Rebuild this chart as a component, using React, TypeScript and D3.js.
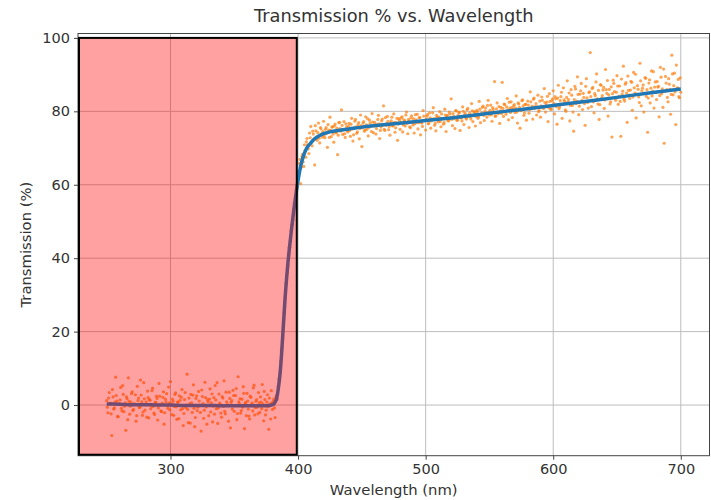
import React, { useEffect, useRef } from "react";
import * as d3 from "d3";

// measured transmission, one reading per nm from 250 to 700 nm
const startNm = 250;
const measuredT = [
  1.2, -2.1, 3.4, 0.5, -8.3, 2.2, -0.8, 7.6, 1.1, -3.2,
  0.4, 4.8, -1.6, 2.9, -0.3, -6.9, 1.7, 7.4, -2.5, 0.8,
  3.6, -1.2, 0.2, -4.4, 5.1, 1.9, -0.6, 2.7, -2.8, 6.1,
  -1.4, 0.9, 3.8, -3.5, 1.3, -0.2, 4.6, -2.2, 0.7, 2.4,
  -4.1, 5.9, 0.1, -1.8, 2.1, -5.2, 1.6, 3.1, -0.9, 0.6,
  6.4, -2.6, 1.0, -0.4, 3.3, -3.9, 0.8, 2.5, -1.3, 4.2,
  -5.6, 1.5, -0.7, 8.4, -4.8, 0.3, 2.9, -2.0, 5.5, -5.9,
  1.8, -1.5, 3.7, 0.0, -7.1, 2.3, -3.6, 6.2, -0.5, 1.4,
  -2.9, 4.4, 0.6, -4.6, 2.0, 5.3, -1.0, -5.0, 3.0, 0.2,
  -3.3, 1.9, 6.6, -2.4, 0.9, -0.1, 3.5, -6.2, 1.2, 4.0,
  -1.7, 2.6, -4.0, 7.7, 0.4, -2.2, 1.6, 5.0, -6.4, 0.7,
  3.2, -1.1, -3.8, 2.1, 0.5, 4.7, -2.7, 1.0, -0.6, 3.4,
  -2.0, 0.8, 5.6, -4.3, 1.5, -1.4, 2.8, -6.6, 0.3, 3.9,
  -1.2, 1.6, -3.4, 2.6, 3.0, 7.1, 8.8, 14.6, 18.4, 25.2,
  29.3, 35.2, 37.8, 42.9, 44.6, 49.0, 50.5, 54.8, 55.9, 59.8,
  62.4, 65.8, 60.3, 67.7, 66.2, 70.9, 67.5, 72.6, 69.8, 74.1,
  75.9, 70.6, 73.8, 65.4, 74.7, 72.1, 76.8, 71.4, 75.2, 73.0,
  77.3, 72.8, 75.6, 70.2, 74.9, 78.4, 73.1, 75.8, 71.6, 76.5,
  74.1, 68.2, 76.9, 75.3, 80.4, 73.7, 77.2, 72.9, 75.8, 74.4,
  76.7, 73.2, 78.1, 71.9, 75.5, 77.8, 74.0, 76.3, 72.5, 79.0,
  70.4, 76.8, 74.6, 78.5, 75.1, 73.3, 77.6, 75.9, 79.4, 74.2,
  77.0, 73.8, 76.4, 78.9, 72.6, 75.7, 77.9, 81.5, 74.8, 76.2,
  78.6, 75.0, 73.5, 77.4, 76.1, 79.3, 74.3, 76.9, 72.1, 78.0,
  75.1, 78.2, 74.4, 77.7, 76.0, 79.8, 73.9, 77.3, 75.5, 78.8,
  76.3, 74.1, 79.1, 77.0, 75.2, 78.3, 73.6, 76.8, 80.2, 77.5,
  74.9, 78.7, 76.6, 79.6, 75.4, 77.8, 81.0, 76.2, 74.7, 78.4,
  77.1, 79.9, 75.8, 78.0, 76.5, 80.6, 74.5, 78.9, 77.4, 79.3,
  83.4, 76.1, 78.6, 75.3, 80.1, 77.6, 79.7, 74.8, 78.2, 81.2,
  76.4, 79.5, 77.9, 80.8, 75.6, 78.5, 82.1, 77.2, 79.9, 76.0,
  80.3, 78.1, 82.7, 76.9, 79.6, 81.4, 77.5, 80.9, 78.4, 83.0,
  79.0, 81.7, 77.3, 80.5, 88.1, 78.8, 82.3, 79.4, 76.7, 81.1,
  87.9, 78.6, 81.8, 79.2, 83.5, 77.7, 80.9, 82.6, 78.3, 81.5,
  79.7, 84.2, 76.8, 82.0, 75.4, 80.4, 83.1, 78.9, 81.9, 77.6,
  82.8, 79.5, 85.3, 80.7, 77.9, 83.6, 81.3, 79.0, 84.4, 80.2,
  78.4, 83.9, 81.0, 86.2, 79.8, 82.5, 77.2, 84.8, 80.6, 82.9,
  85.6, 79.3, 83.4, 76.5, 87.1, 81.2, 84.0, 78.1, 86.4, 82.7,
  80.0, 88.3, 83.2, 77.4, 85.9, 81.6, 74.6, 86.8, 82.1, 89.4,
  79.1, 84.7, 87.6, 80.5, 83.8, 76.2, 88.9, 82.4, 85.1, 96.0,
  81.3, 86.5, 79.6, 84.3, 90.2, 82.0, 77.8, 87.3, 83.6, 85.8,
  80.8, 91.4, 84.9, 78.7, 86.0, 82.6, 73.0, 88.5, 85.4, 83.0,
  89.7, 81.9, 86.9, 73.2, 84.6, 92.3, 82.8, 87.8, 77.0, 85.7,
  83.5, 88.2, 80.3, 90.6, 85.0, 78.2, 87.0, 83.9, 93.1, 81.5,
  86.3, 79.8, 89.2, 84.1, 74.3, 87.7, 82.3, 91.0, 85.5, 80.9,
  88.0, 83.2, 86.6, 78.5, 92.0, 84.8, 81.1, 71.3, 89.5, 85.9,
  82.6, 87.4, 79.2, 95.3, 84.5, 90.4, 76.4, 86.2, 88.7, 83.7,
  85.2,
];

// second pass, read between the whole-nm points (250.5 ... 699.5 nm)
const halfStartNm = 250.5;
const measuredHalfT = [
  -0.6, 1.9, 0.3, -2.4, 4.2, -1.1, 0.8, 2.6, -3.1, 0.2,
  1.4, -0.9, 5.3, -1.8, 0.6, 2.2, -4.0, 1.0, -0.3, 3.1,
  -1.5, 0.4, 2.8, -2.9, 1.2, -0.7, 6.8, 0.9, -1.9, 1.7,
  0.1, -3.3, 2.0, 1.5, -1.0, 3.9, -0.4, -2.6, 0.7, 1.8,
  -0.8, 2.4, -1.6, 0.5, 3.6, -2.1, 0.9, -0.2, 4.9, -1.3,
  0.3, 1.6, -2.8, 2.9, -0.5, 0.8, -3.7, 1.3, 2.1, -1.0,
  -2.3, 3.4, 0.0, -1.2, 1.9, -4.9, 0.6, 2.7, -0.9, -3.4,
  2.5, -0.6, 1.1, -2.0, 4.1, 0.4, -1.4, 2.0, -5.2, 0.9,
  1.6, -1.9, 3.0, -0.3, -2.5, 1.4, 6.1, -0.8, 0.5, -2.2,
  2.3, -0.4, -1.7, 3.5, 0.2, -4.4, 1.8, 0.7, -1.1, 2.6,
  -0.2, 4.5, -2.3, 0.9, 1.7, -1.5, -0.6, 3.2, 0.4, -2.9,
  1.1, -3.0, 2.4, 0.1, -1.6, 5.4, -0.7, 1.5, -2.4, 0.6,
  2.2, -1.0, 0.3, 3.7, -2.7, 0.8, -0.5, 1.9, -3.8, 0.5,
  1.0, -0.8, 2.0, 1.6, 5.1, 6.6, 12.0, 15.7, 22.4, 26.8,
  33.0, 36.0, 41.1, 43.0, 47.5, 49.2, 53.4, 54.6, 58.5, 59.3,
  63.5, 66.9, 64.8, 68.3, 65.0, 69.4, 71.7, 70.9, 68.5, 72.8,
  71.5, 74.6, 72.4, 76.1, 73.0, 74.2, 72.7, 75.6, 73.9, 74.5,
  73.4, 75.1, 74.0, 76.4, 72.9, 74.8, 75.7, 73.8, 76.0, 74.3,
  75.4, 73.5, 77.0, 74.6, 76.2, 75.0, 73.9, 76.6, 74.7, 75.9,
  74.8, 76.5, 75.2, 73.6, 77.3, 75.8, 74.4, 76.9, 75.3, 76.1,
  75.5, 77.2, 74.9, 76.3, 78.0, 75.6, 76.8, 74.5, 77.1, 76.0,
  76.4, 75.3, 77.8, 76.6, 74.8, 77.4, 76.2, 75.1, 78.3, 76.7,
  77.3, 75.9, 76.8, 78.4, 76.0, 77.0, 75.5, 78.1, 76.5, 77.6,
  76.9, 78.5, 76.3, 77.4, 79.0, 76.7, 77.8, 75.8, 78.2, 77.1,
  78.0, 76.6, 77.7, 79.2, 76.9, 78.3, 77.0, 75.9, 78.7, 77.5,
  77.9, 79.1, 76.8, 78.2, 77.4, 79.6, 78.0, 76.7, 78.9, 77.6,
  78.4, 77.2, 79.3, 78.0, 76.9, 79.0, 78.6, 77.5, 79.8, 78.3,
  77.8, 79.4, 78.1, 80.2, 77.6, 78.9, 79.7, 78.3, 77.4, 80.0,
  79.0, 78.2, 80.4, 78.7, 79.5, 77.9, 80.1, 78.8, 79.7, 78.6,
  79.9, 78.5, 80.6, 79.2, 81.1, 78.9, 80.0, 79.4, 81.6, 79.7,
  80.3, 79.1, 81.0, 79.8, 78.6, 80.7, 79.6, 81.3, 80.1, 79.4,
  80.8, 82.0, 79.9, 81.2, 80.4, 82.5, 79.7, 81.0, 80.6, 81.8,
  80.9, 79.8, 82.3, 81.1, 80.2, 82.9, 81.5, 79.6, 81.9, 80.7,
  81.7, 80.5, 82.6, 81.4, 83.3, 80.9, 82.1, 81.2, 79.9, 82.8,
  81.5, 83.0, 80.8, 82.4, 81.7, 84.1, 81.0, 82.7, 80.6, 83.4,
  82.2, 84.0, 81.3, 83.6, 80.7, 82.9, 85.2, 81.9, 83.1, 80.4,
  83.8, 82.5, 85.0, 81.6, 84.4, 79.8, 83.2, 86.1, 82.8, 84.6,
  81.4, 85.6, 83.0, 84.9, 82.1, 86.8, 83.7, 80.9, 85.3, 84.0,
  86.2, 82.6, 84.8, 88.0, 83.4, 85.7, 81.8, 87.1, 84.3, 86.5,
  83.1, 85.9, 88.4, 84.5, 82.0, 86.7, 84.8, 87.6, 83.6, 85.2,
  86.9, 84.1, 82.7, 88.8, 85.5, 83.3, 87.4, 85.0, 89.6, 84.4,
  85.8, 87.9, 83.9, 86.4, 90.1, 84.7, 86.0, 82.4, 88.3, 85.6,
  87.2, 84.9, 89.0, 85.9, 83.6, 88.6, 86.3, 84.2, 90.8, 86.6,
  85.1, 88.1, 86.8, 84.3, 89.3, 86.1, 91.5, 85.4, 87.7, 83.8,
  88.9, 86.0, 84.6, 90.2, 87.0, 85.3, 92.6, 86.4, 84.0, 89.1,
];

// fitted curve
const fitNm = [
  250, 260, 270, 280, 290, 300, 310, 320, 330, 340, 350, 360, 370, 378,
  380, 381, 382, 383, 384, 385, 386, 387, 388, 389, 390, 391, 392, 393,
  394, 395, 396, 397, 398, 399, 400, 401, 402, 403, 404, 405, 406, 407,
  408, 410, 412, 415, 420, 425, 430, 440, 450, 475, 500, 525, 550, 575,
  600, 625, 650, 675, 700,
];
const fitT = [
  0.3, 0.2, 0.1, 0.1, 0.0, 0.0, -0.1, -0.1, -0.1, -0.2, -0.2, -0.2, -0.2, -0.1,
  0.1, 0.3, 0.8, 1.5, 3.3, 5.8, 9.0, 13.5, 19.0, 24.5, 30.0, 34.5, 38.5, 42.0,
  45.2, 48.3, 51.2, 54.0, 56.6, 59.0, 61.2, 63.2, 65.0, 66.4, 67.6, 68.6, 69.4, 70.1,
  70.6, 71.4, 72.2, 73.0, 73.9, 74.4, 74.7, 75.2, 75.7, 76.6, 77.5, 78.4, 79.5, 80.5,
  81.6, 82.7, 83.8, 85.0, 86.1,
];

const xTicks = [300, 400, 500, 600, 700];
const yTicks = [0, 20, 40, 60, 80, 100];
const cutoffNm = 399; // end of the shaded UV band

const App = () => {
  const container = useRef(null);

  useEffect(() => {
    const width = 711;
    const height = 500;
    const marginTop = 33.5;
    const marginRight = 1.5;
    const marginBottom = 44.3;
    const marginLeft = 78;
    const font = "'DejaVu Sans', sans-serif";

    const x = d3
      .scaleLinear()
      .domain([227.5, 722.5])
      .range([marginLeft, width - marginRight]);

    const y = d3
      .scaleLinear()
      .domain([-13.8, 101.2])
      .range([height - marginBottom, marginTop]);

    const svg = d3
      .select(container.current)
      .append("svg")
      .attr("width", width)
      .attr("height", height)
      .attr("viewBox", [0, 0, width, height])
      .style("display", "block")
      .style("font-family", font);

    svg.append("rect").attr("width", width).attr("height", height).attr("fill", "#fff");

    // grid
    const grid = svg.append("g").attr("stroke", "#bdbdbd").attr("stroke-width", 1);
    grid
      .selectAll("line.gx")
      .data(xTicks)
      .join("line")
      .attr("x1", (d) => x(d))
      .attr("x2", (d) => x(d))
      .attr("y1", marginTop)
      .attr("y2", height - marginBottom);
    grid
      .selectAll("line.gy")
      .data(yTicks)
      .join("line")
      .attr("x1", marginLeft)
      .attr("x2", width - marginRight)
      .attr("y1", (d) => y(d))
      .attr("y2", (d) => y(d));

    // measured points
    const points = measuredT
      .map((t, i) => ({ nm: startNm + i, t }))
      .concat(measuredHalfT.map((t, i) => ({ nm: halfStartNm + i, t })));
    svg
      .append("g")
      .attr("fill", "#ff7f0e")
      .attr("fill-opacity", 0.7)
      .selectAll("circle")
      .data(points)
      .join("circle")
      .attr("cx", (d) => x(d.nm))
      .attr("cy", (d) => y(d.t))
      .attr("r", 1.6);

    // fit
    const fit = fitNm.map((nm, i) => ({ nm, t: fitT[i] }));
    const line = d3
      .line<any>()
      .x((d) => x(d.nm))
      .y((d) => y(d.t))
      .curve(d3.curveMonotoneX);
    svg
      .append("path")
      .datum(fit)
      .attr("fill", "none")
      .attr("stroke", "#1f77b4")
      .attr("stroke-width", 3.5)
      .attr("d", line);

    // axes frame
    svg
      .append("rect")
      .attr("x", marginLeft)
      .attr("y", marginTop)
      .attr("width", width - marginRight - marginLeft)
      .attr("height", height - marginBottom - marginTop)
      .attr("fill", "none")
      .attr("stroke", "#444")
      .attr("stroke-width", 1);

    // shaded UV region
    svg
      .append("rect")
      .attr("x", x(227.5) + 1)
      .attr("y", y(100))
      .attr("width", x(cutoffNm) - x(227.5) - 1)
      .attr("height", y(-13.8) - y(100) - 1)
      .attr("fill", "red")
      .attr("fill-opacity", 0.37)
      .attr("stroke", "#000")
      .attr("stroke-width", 2);

    const styleAxis = (g) => {
      g.select(".domain").remove();
      g.selectAll(".tick line").attr("stroke", "#444");
      g.selectAll("text")
        .attr("fill", "#333")
        .style("font-size", "14.5px")
        .style("font-family", font);
    };

    svg
      .append("g")
      .attr("transform", `translate(0,${height - marginBottom})`)
      .call(d3.axisBottom(x).tickValues(xTicks).tickSize(4).tickPadding(4))
      .call(styleAxis);

    svg
      .append("g")
      .attr("transform", `translate(${marginLeft},0)`)
      .call(d3.axisLeft(y).tickValues(yTicks).tickSize(4).tickPadding(4))
      .call(styleAxis);

    svg
      .append("text")
      .attr("x", (marginLeft + width - marginRight) / 2)
      .attr("y", 22)
      .attr("text-anchor", "middle")
      .attr("fill", "#333")
      .style("font-size", "17.8px")
      .text("Transmission % vs. Wavelength");

    svg
      .append("text")
      .attr("x", (marginLeft + width - marginRight) / 2)
      .attr("y", 495)
      .attr("text-anchor", "middle")
      .attr("fill", "#333")
      .style("font-size", "14.8px")
      .text("Wavelength (nm)");

    svg
      .append("text")
      .attr("transform", `translate(31,${(marginTop + height - marginBottom) / 2}) rotate(-90)`)
      .attr("text-anchor", "middle")
      .attr("fill", "#333")
      .style("font-size", "14.8px")
      .text("Transmission (%)");

    return () => {
      svg.remove();
    };
  }, []);

  return <div ref={container} style={{ position: "absolute", left: 0, top: 0 }}></div>;
};

export default App;
